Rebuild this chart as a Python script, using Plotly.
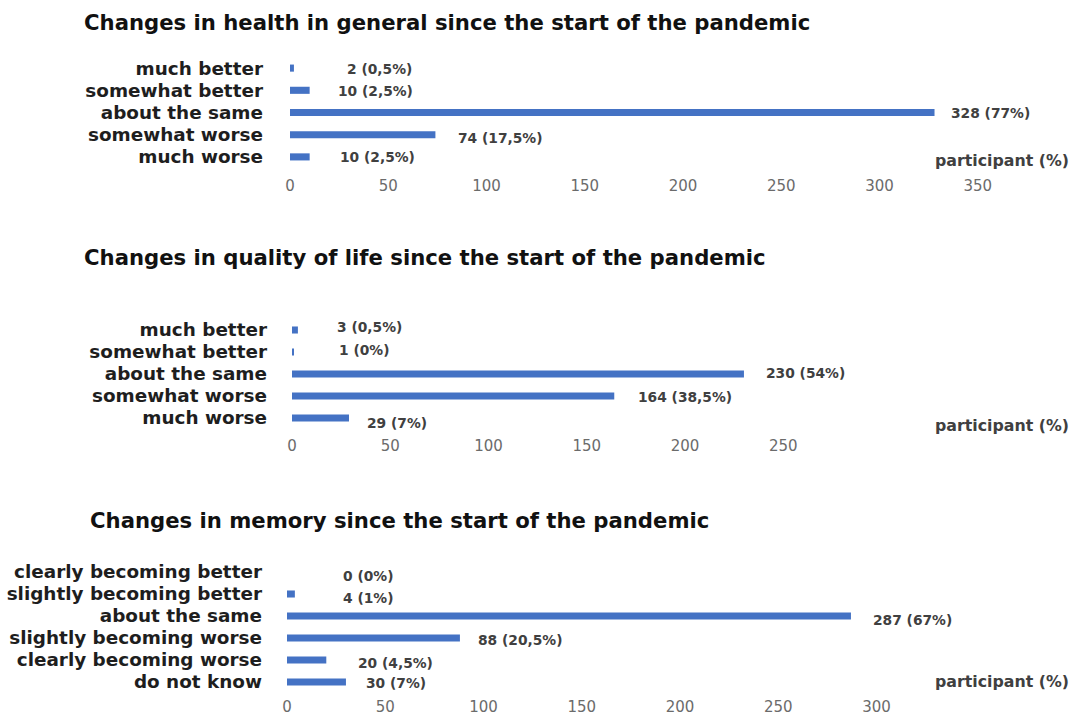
import plotly.graph_objects as go

W, H = 1072, 716

# ---- data ----
health_cats = ["much better", "somewhat better", "about the same", "somewhat worse", "much worse"]
health_vals = [2, 10, 328, 74, 10]
health_text = ["2 (0,5%)", "10 (2,5%)", "328 (77%)", "74 (17,5%)", "10 (2,5%)"]

qol_cats = ["much better", "somewhat better", "about the same", "somewhat worse", "much worse"]
qol_vals = [3, 1, 230, 164, 29]
qol_text = ["3 (0,5%)", "1 (0%)", "230 (54%)", "164 (38,5%)", "29 (7%)"]

mem_cats = ["clearly becoming better", "slightly becoming better", "about the same",
            "slightly becoming worse", "clearly becoming worse", "do not know"]
mem_vals = [0, 4, 287, 88, 20, 30]
mem_text = ["0 (0%)", "4 (1%)", "287 (67%)", "88 (20,5%)", "20 (4,5%)", "30 (7%)"]

titles = ["Changes in health in general since the start of the pandemic",
          "Changes in quality of life since the start of the pandemic",
          "Changes in memory since the start of the pandemic"]
ticks = [[0, 50, 100, 150, 200, 250, 300, 350],
         [0, 50, 100, 150, 200, 250],
         [0, 50, 100, 150, 200, 250, 300]]
axis_note = "participant (%)"

# ---- layout helpers (pixel based) ----
PX_PER_UNIT = 1.965
BAR_BLUE = "#4472C4"
FONT = "DejaVu Sans"

# per panel: x pixel of zero, top/bottom pixel of category band, title pos, note y
panels = [
    dict(cats=health_cats, vals=health_vals, text=health_text, x0=290, top=57, bottom=168,
         title_xy=(82, 22), note_y=160, x_standoff=7, y_standoff=26,
         lab_dx=[51, 26, 14, 21, 28], lab_dy=[1, 1, 0, 3, 0]),
    dict(cats=qol_cats, vals=qol_vals, text=qol_text, x0=292, top=319, bottom=429,
         title_xy=(82, 257), note_y=425, x_standoff=6, y_standoff=24,
         lab_dx=[37, 43, 20, 22, 16], lab_dy=[-3, -2, -1, 1, 5]),
    dict(cats=mem_cats, vals=mem_vals, text=mem_text, x0=287, top=561, bottom=693,
         title_xy=(88, 520), note_y=681, x_standoff=3, y_standoff=24,
         lab_dx=[54, 46, 20, 16, 30, 18], lab_dy=[4, 4, 4, 2, 3, 1]),
]

X_RIGHT = 1010  # right end of each x axis, px

fig = go.Figure()
annotations = []
layout_axes = {}

for i, p in enumerate(panels):
    n = i + 1
    xa = "x" if n == 1 else f"x{n}"
    ya = "y" if n == 1 else f"y{n}"
    xkey = "xaxis" if n == 1 else f"xaxis{n}"
    ykey = "yaxis" if n == 1 else f"yaxis{n}"

    fig.add_trace(go.Bar(
        x=p["vals"], y=p["cats"], orientation="h",
        marker=dict(color=BAR_BLUE, line=dict(width=0)),
        width=0.32, xaxis=xa, yaxis=ya, showlegend=False, hoverinfo="x+y",
    ))

    x_max = (X_RIGHT - p["x0"]) / PX_PER_UNIT
    layout_axes[xkey] = dict(
        domain=[p["x0"] / W, X_RIGHT / W], range=[0, x_max], anchor=ya, automargin=False,
        tickmode="array", tickvals=ticks[i], showgrid=False, zeroline=False, showline=False,
        ticks="", ticklabelstandoff=p["x_standoff"],
        tickfont=dict(family=FONT, size=15, color="#6b6b6b"),
    )
    ncat = len(p["cats"])
    layout_axes[ykey] = dict(
        domain=[1 - p["bottom"] / H, 1 - p["top"] / H], anchor=xa, automargin=False,
        type="category", categoryorder="array", categoryarray=p["cats"],
        tickmode="array", tickvals=p["cats"], ticktext=p["cats"],
        range=[ncat - 0.5, -0.5], showgrid=False, zeroline=False, showline=False,
        ticks="", ticklabelstandoff=p["y_standoff"],
        tickfont=dict(family=FONT, size=18.4, color="#1e1e1e", weight=700),
    )

    # value labels next to each bar
    for cat, v, t, dx, dy in zip(p["cats"], p["vals"], p["text"], p["lab_dx"], p["lab_dy"]):
        annotations.append(dict(
            x=v, y=cat, xref=xa, yref=ya, text=t, showarrow=False,
            xanchor="left", yanchor="middle", xshift=dx, yshift=-dy,
            font=dict(family=FONT, size=13.8, color="#404040", weight=700),
        ))

    # panel title
    tx, ty = p["title_xy"]
    annotations.append(dict(
        x=tx / W, y=1 - ty / H, xref="paper", yref="paper", text=titles[i],
        showarrow=False, xanchor="left", yanchor="middle",
        font=dict(family=FONT, size=21.2, color="#111111", weight=700),
    ))
    # axis caption
    annotations.append(dict(
        x=1071 / W, y=1 - p["note_y"] / H, xref="paper", yref="paper", text=axis_note,
        showarrow=False, xanchor="right", yanchor="middle",
        font=dict(family=FONT, size=15.8, color="#404040", weight=700),
    ))

fig.update_layout(
    width=W, height=H, margin=dict(l=0, r=0, t=0, b=0),
    paper_bgcolor="white", plot_bgcolor="white",
    annotations=annotations, bargap=0.6, **layout_axes,
)

fig.write_html("out.html")
